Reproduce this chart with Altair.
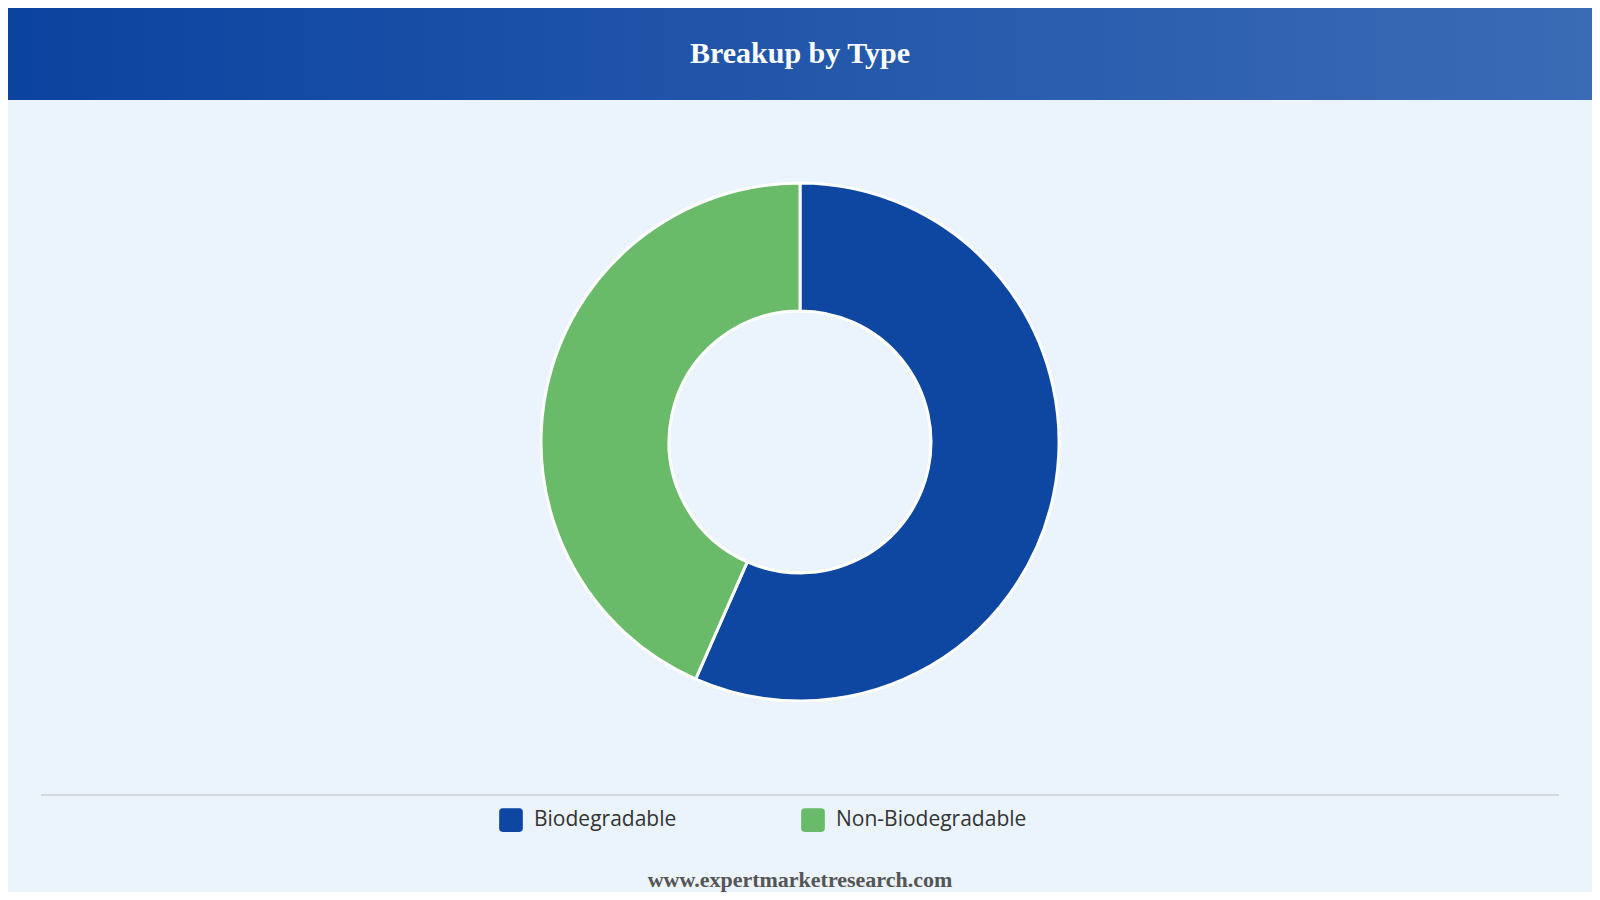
import altair as alt
import pandas as pd

categories = ["Biodegradable", "Non-Biodegradable"]
shares = [56.6, 43.4]
colors = ["#0D47A1", "#69BB6A"]
title_text = "Breakup by Type"
footer_text = "www.expertmarketresearch.com"

W, H = 1584, 884
CX, CY = 792, 434
R_OUT, R_IN = 259, 131

df = pd.DataFrame({"Type": categories, "Share": shares, "order": list(range(len(categories)))})
one = pd.DataFrame({"k": [0]})

rounded_square = ("M -0.7 -1 L 0.7 -1 Q 1 -1 1 -0.7 L 1 0.7 Q 1 1 0.7 1 "
                  "L -0.7 1 Q -1 1 -1 0.7 L -1 -0.7 Q -1 -1 -0.7 -1 Z")

header = alt.Chart(one).mark_rect(
    fill=alt.Gradient(
        gradient="linear",
        stops=[alt.GradientStop(color="#0B43A0", offset=0),
               alt.GradientStop(color="#3A6BB5", offset=1)],
        x1=0, x2=1, y1=0, y2=0,
    )
).encode(x=alt.value(0), x2=alt.value(W), y=alt.value(0), y2=alt.value(92))

title = alt.Chart(one).mark_text(
    text=title_text, font="Liberation Serif", fontWeight="bold", fontSize=30,
    color="white", align="center", baseline="middle"
).encode(x=alt.value(CX), y=alt.value(46))

donut = alt.Chart(df).mark_arc(
    outerRadius=R_OUT, innerRadius=R_IN, stroke="white", strokeWidth=3
).encode(
    theta=alt.Theta("Share:Q", stack=True),
    order=alt.Order("order:Q"),
    color=alt.Color(
        "Type:N",
        scale=alt.Scale(domain=categories, range=colors),
        legend=alt.Legend(
            title=None, orient="none", direction="horizontal",
            legendX=491, legendY=800,
            symbolType=rounded_square, symbolSize=560, symbolStrokeWidth=0,
            symbolOpacity=1,
            labelFont="Open Sans", labelFontSize=21, labelColor="#333333",
            labelOffset=11, columnPadding=124, labelLimit=400,
        ),
    ),
    x=alt.value(CX), y=alt.value(CY),
)

rule = alt.Chart(one).mark_rule(color="#D4D8DD", strokeWidth=2).encode(
    x=alt.value(33), x2=alt.value(1551), y=alt.value(787)
)

footer = alt.Chart(one).mark_text(
    text=footer_text, font="Liberation Serif", fontWeight="bold", fontSize=22,
    color="#555555", align="center", baseline="middle"
).encode(x=alt.value(CX), y=alt.value(872))

chart = alt.layer(header, title, donut, rule, footer).properties(
    width=W, height=H,
    autosize=alt.AutoSizeParams(type="none"),
    padding=0,
    background="#EBF3FC",
).configure_view(stroke=None)

chart.save("out.html", embed_options={"renderer": "svg", "actions": False})
